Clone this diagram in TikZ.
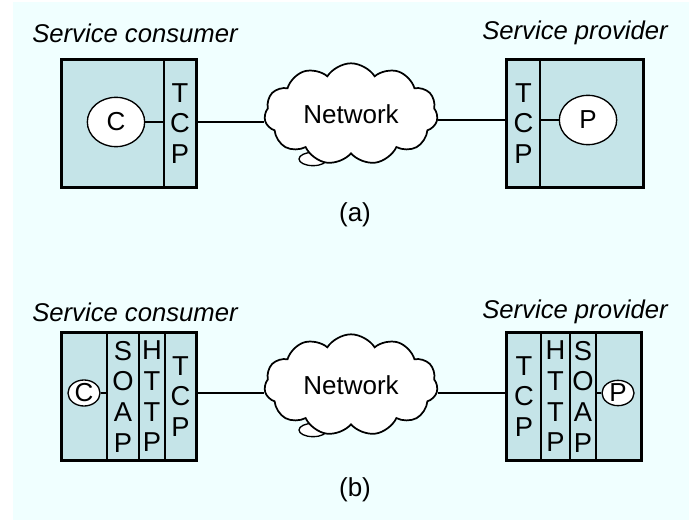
\documentclass[tikz,border=0pt]{standalone}
\usepackage{fontspec}
\setmainfont{Liberation Sans}
\usetikzlibrary{shapes.geometric,shapes.symbols,fit,positioning}
\definecolor{bgcyan}{RGB}{240,255,255}
\definecolor{boxfill}{RGB}{197,228,232}

\begin{document}
\begin{tikzpicture}[x=0.75pt,y=-0.75pt,font=\fontsize{19.5}{23}\selectfont,
  col/.style={draw,fill=boxfill,line width=1pt,inner sep=0pt},
  frame/.style={draw,line width=2pt,inner sep=0pt},
  stack/.style={align=center,font=\fontsize{20.5}{23}\selectfont},
  proc/.style={ellipse,draw,fill=white,line width=1pt,inner sep=0pt},
  net/.style={cloud,cloud puffs=11,cloud puff arc=115,aspect=1.8,draw,fill=white,
    line width=1.3pt,minimum width=130pt,minimum height=74pt},
  tail/.style={ellipse,draw,fill=white,line width=1pt,inner sep=0pt,
    minimum width=21pt,minimum height=10pt},
  role/.style={font=\fontsize{19.25}{23}\selectfont\itshape},
  link/.style={line width=1pt}]
  \useasboundingbox (0,0) rectangle (689,521);
  \fill[bgcyan] (13,2) rectangle (689,520);

  % (a) plain TCP
  \node[role] (consa) at (135,33) {Service consumer};
  \node[role] (prova) at (575,33) {Service provider};
  \node[col,fit={(62,60) (164,187)}] (cappa) {};
  \node[col,fit={(164,60) (196,187)}] (ctcpa) {};
  \node[frame,fit=(cappa)(ctcpa)] (cboxa) {};
  \node[stack] (ctcpla) at (ctcpa.center) {T\\C\\P};
  \node[proc,minimum width=43pt,minimum height=37pt] (Ca) at (116,122) {C};

  \node[col,fit={(507,60) (540,187)}] (ptcpa) {};
  \node[col,fit={(540,60) (643,187)}] (pappa) {};
  \node[frame,fit=(ptcpa)(pappa)] (pboxa) {};
  \node[stack] (ptcpla) at (ptcpa.center) {T\\C\\P};
  \node[proc,minimum width=43pt,minimum height=37pt] (Pa) at (588,120) {P};

  \node[tail] (taila) at (313,159) {};
  \node[net] (neta) at (351,114) {Network};

  \draw[link] (Ca.east) -- (Ca.east -| ctcpa.west);
  \draw[link] (cboxa.east |- Ca.east) -- (neta.west |- Ca.east);
  \draw[link] (Pa.west) -- (Pa.west -| ptcpa.east);
  \draw[link] (neta.east |- Pa.west) -- (pboxa.west |- Pa.west);
  \node (capa) at (355,215) {(a)};

  % (b) SOAP over HTTP over TCP
  \node[role] (consb) at (135,312) {Service consumer};
  \node[role] (provb) at (575,312) {Service provider};
  \node[col,fit={(62,333) (107,460)}] (cappb) {};
  \node[col,fit={(107,333) (139,460)}] (csoapb) {};
  \node[col,fit={(139,333) (165,460)}] (chttpb) {};
  \node[col,fit={(165,333) (196,460)}] (ctcpb) {};
  \node[frame,fit=(cappb)(ctcpb)] (cboxb) {};
  \node[stack] (csoaplb) at (csoapb.center) {S\\O\\A\\P};
  \node[stack] (chttplb) at (chttpb.center) {H\\T\\T\\P};
  \node[stack] (ctcplb) at (ctcpb.center) {T\\C\\P};
  \node[proc,minimum width=24pt,minimum height=19pt] (Cb) at (84,393) {C};

  \node[col,fit={(507,333) (541,460)}] (ptcpb) {};
  \node[col,fit={(541,333) (570,460)}] (phttpb) {};
  \node[col,fit={(570,333) (596,460)}] (psoapb) {};
  \node[col,fit={(596,333) (641,460)}] (pappb) {};
  \node[frame,fit=(ptcpb)(pappb)] (pboxb) {};
  \node[stack] (ptcplb) at (ptcpb.center) {T\\C\\P};
  \node[stack] (phttplb) at (phttpb.center) {H\\T\\T\\P};
  \node[stack] (psoaplb) at (psoapb.center) {S\\O\\A\\P};
  \node[proc,minimum width=24pt,minimum height=19pt] (Pb) at (618,393) {P};

  \node[tail] (tailb) at (313,430) {};
  \node[net] (netb) at (351,385) {Network};

  \draw[link] (Cb.east) -- (Cb.east -| csoapb.west);
  \draw[link] (cboxb.east |- Cb.east) -- (netb.west |- Cb.east);
  \draw[link] (Pb.west) -- (Pb.west -| psoapb.east);
  \draw[link] (netb.east |- Pb.west) -- (pboxb.west |- Pb.west);
  \node (capb) at (355,490) {(b)};
\end{tikzpicture}
\end{document}
